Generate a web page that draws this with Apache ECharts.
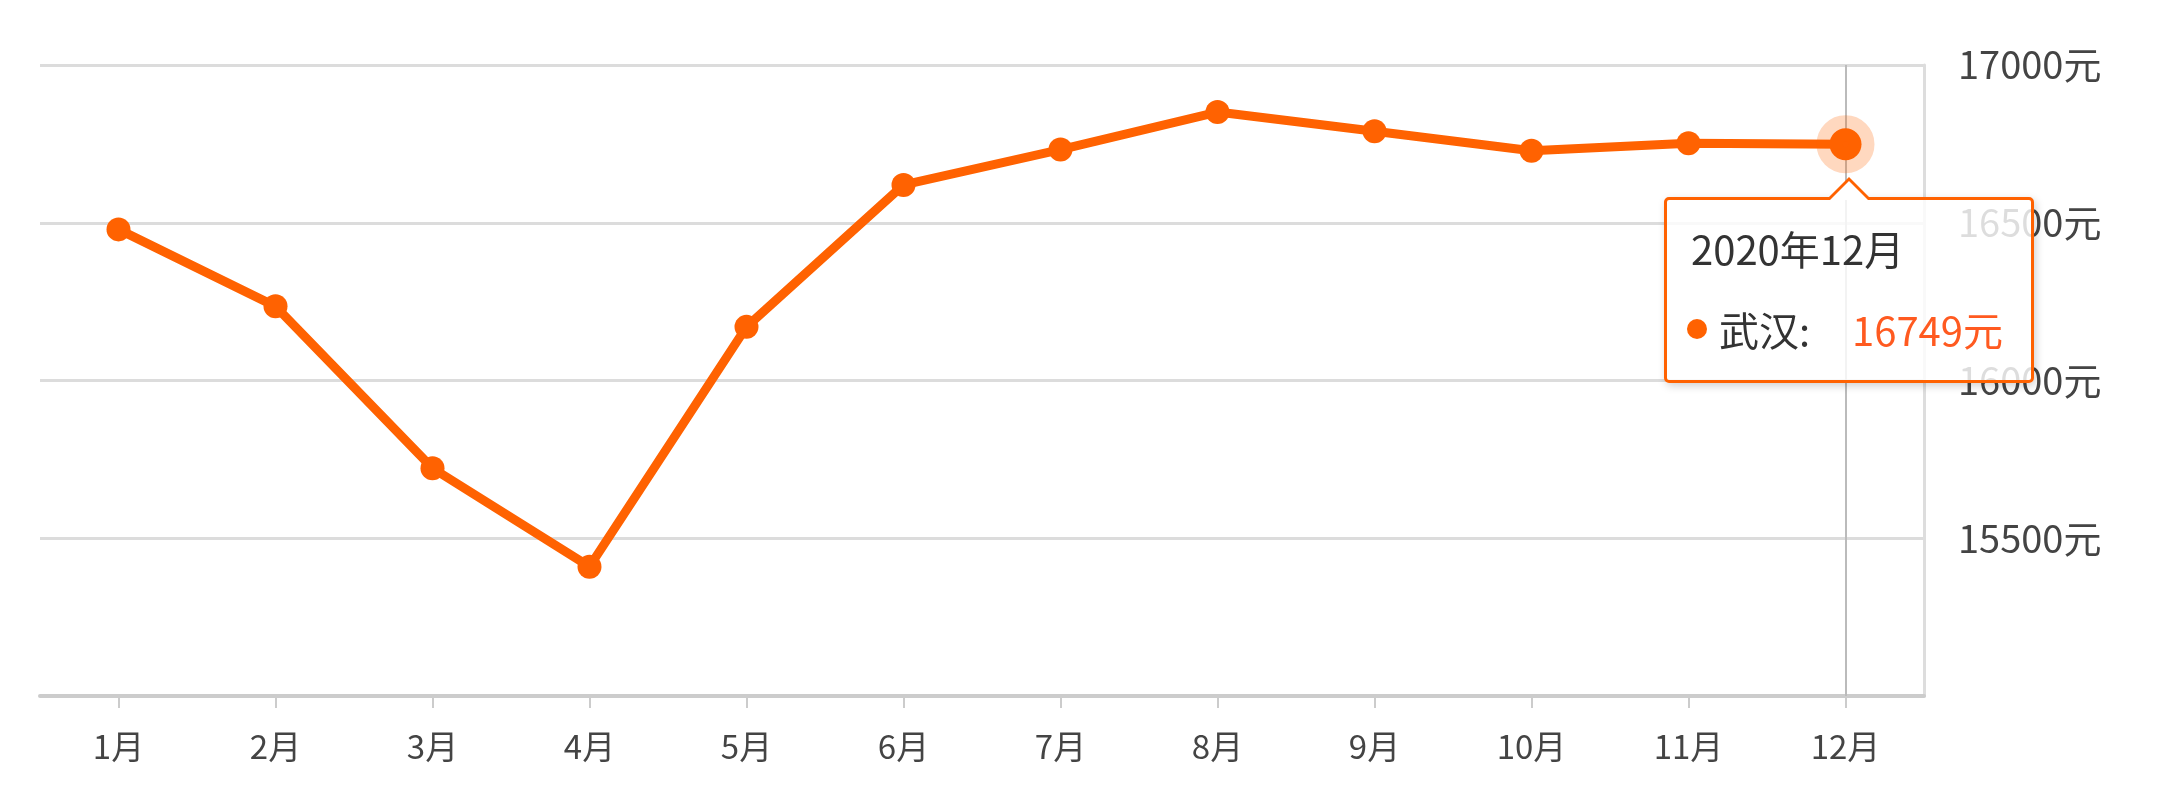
<!DOCTYPE html>
<html>
<head>
<meta charset="utf-8">
<script src="https://cdn.jsdelivr.net/npm/echarts@6/dist/echarts.min.js"></script>
<style>
html,body{margin:0;padding:0;background:#fff;}
#main{width:2161px;height:800px;}
</style>
</head>
<body>
<div id="main"></div>
<script>
const categories = ['1月','2月','3月','4月','5月','6月','7月','8月','9月','10月','11月','12月'];
const values = [16479, 16235, 15722, 15410, 16170, 16620, 16732, 16851, 16790, 16728, 16752, 16749];
const cityName = '武汉';
const tipTitle = '2020年12月';
const unit = '元';
const yMin = 15000, yMax = 17000, yStep = 500;
const focusIndex = 11;

const ORANGE = '#ff6201';
const FONT = "'Noto Sans CJK SC', 'Noto Sans', sans-serif";

const chart = echarts.init(document.getElementById('main'), null, {renderer: 'canvas'});

const seriesData = values.map((v, i) => i === focusIndex ? {
  value: v,
  symbolSize: 32,
  itemStyle: {color: ORANGE, borderColor: 'rgba(255,98,1,0.25)', borderWidth: 26}
} : v);

chart.setOption({
  animation: false,
  grid: {left: 40, right: 237, top: 65, bottom: 104, containLabel: false},
  xAxis: {
    type: 'category',
    data: categories,
    boundaryGap: true,
    axisLine: {show: true, lineStyle: {color: '#cccccc', width: 4}},
    axisTick: {show: true, alignWithLabel: true, length: 12, lineStyle: {color: '#cccccc', width: 2}},
    axisLabel: {color: '#444', fontSize: 33, fontFamily: FONT, margin: 34},
    splitLine: {show: false}
  },
  yAxis: {
    type: 'value',
    position: 'right',
    min: yMin, max: yMax, interval: yStep,
    axisLine: {show: true, lineStyle: {color: '#dddddd', width: 3}},
    axisTick: {show: false},
    axisLabel: {color: '#444', fontSize: 38, fontFamily: FONT, margin: 34, showMinLabel: false,
      formatter: v => v + unit},
    splitLine: {show: true, lineStyle: {color: '#dcdcdc', width: 3}}
  },
  tooltip: {
    trigger: 'item',
    triggerOn: 'none',
    alwaysShowContent: true,
    transitionDuration: 0,
    padding: 0,
    borderWidth: 3,
    borderColor: ORANGE,
    borderRadius: 5,
    backgroundColor: 'rgba(255,255,255,0.82)',
    extraCssText: 'box-shadow:2px 3px 8px rgba(0,0,0,0.18);',
    position: function (point, params, dom, rect, size) {
      const p = chart.convertToPixel({seriesIndex: 0}, [focusIndex, values[focusIndex]]);
      return [p[0] - size.contentSize[0] / 2 + 3, p[1] + 53];
    },
    formatter: function (params) {
      return '<div style="position:relative;width:364px;height:180px;font-family:' + FONT.replace(/'/g, '&quot;') + ';">' +
        '<div style="position:absolute;left:50%;top:-23px;margin-left:-20px;width:0;height:0;border-left:20px solid transparent;border-right:20px solid transparent;border-bottom:20px solid ' + ORANGE + ';"></div>' +
        '<div style="position:absolute;left:50%;top:-19px;margin-left:-19px;width:0;height:0;border-left:19px solid transparent;border-right:19px solid transparent;border-bottom:19px solid #fff;"></div>' +
        '<div style="position:absolute;left:24px;top:28px;font-size:40px;line-height:40px;color:#333;white-space:nowrap;">' + tipTitle + '</div>' +
        '<div style="position:absolute;left:20px;top:119px;width:20px;height:20px;border-radius:50%;background:' + ORANGE + ';"></div>' +
        '<div style="position:absolute;left:52px;top:109px;font-size:40px;line-height:40px;color:#333;white-space:nowrap;">' + cityName + ':</div>' +
        '<div style="position:absolute;left:185px;top:109px;font-size:40px;line-height:40px;color:#ff5a20;white-space:nowrap;">' + params.value + unit + '</div>' +
        '</div>';
    }
  },
  series: [{
    name: cityName,
    type: 'line',
    data: seriesData,
    symbol: 'circle',
    symbolSize: 24,
    showSymbol: true,
    lineStyle: {color: ORANGE, width: 9},
    itemStyle: {color: ORANGE},
    emphasis: {disabled: true},
    markLine: {
      silent: true,
      symbol: 'none',
      z: 1,
      label: {show: false},
      lineStyle: {color: '#bbbbbb', width: 2, type: 'solid'},
      data: [{xAxis: categories[focusIndex]}]
    }
  }]
});

chart.dispatchAction({type: 'showTip', seriesIndex: 0, dataIndex: focusIndex});
setTimeout(() => chart.dispatchAction({type: 'showTip', seriesIndex: 0, dataIndex: focusIndex}), 50);
</script>
</body>
</html>
